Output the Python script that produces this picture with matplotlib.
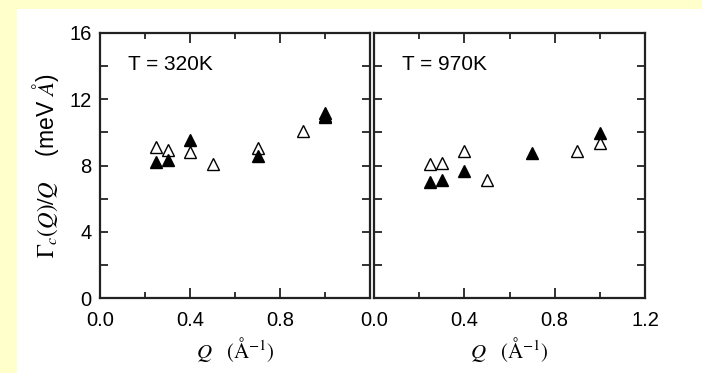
import matplotlib
matplotlib.use("Agg")
import matplotlib.pyplot as plt
from matplotlib.ticker import MultipleLocator

plt.rcParams['font.family'] = ['Liberation Sans', 'DejaVu Sans']
plt.rcParams['mathtext.fontset'] = 'stix'

# T = 320K
q_open_320 = [0.25, 0.30, 0.40, 0.50, 0.70, 0.90, 1.00]
g_open_320 = [9.14, 8.94, 8.84, 8.10, 9.08, 10.08, 11.0]
q_fill_320 = [0.25, 0.30, 0.40, 0.70, 1.00, 1.00]
g_fill_320 = [8.19, 8.33, 9.54, 8.57, 10.9, 11.15]

# T = 970K
q_open_970 = [0.25, 0.30, 0.40, 0.50, 0.90, 1.00]
g_open_970 = [8.07, 8.17, 8.90, 7.13, 8.90, 9.38]
q_fill_970 = [0.25, 0.30, 0.40, 0.70, 1.00]
g_fill_970 = [6.98, 7.13, 7.67, 8.78, 9.94]

panels = [
    ("T = 320K", q_open_320, g_open_320, q_fill_320, g_fill_320),
    ("T = 970K", q_open_970, g_open_970, q_fill_970, g_fill_970),
]

W, H = 702, 373
fig = plt.figure(figsize=(W / 100, H / 100), dpi=100)
fig.patch.set_facecolor('#ffffcc')
# white sheet behind the plots
fig.add_artist(plt.Rectangle((17 / W, 0), 1 - 17 / W, 1 - 9 / H,
                             transform=fig.transFigure, facecolor='white',
                             edgecolor='none', zorder=0))

boxes = [(100, 270), (374, 271)]
axes = []
for i, (label, qo, go, qf, gf) in enumerate(panels):
    x0, w = boxes[i]
    ax = fig.add_axes([x0 / W, (H - 298) / H, w / W, 265 / H])
    ax.set_facecolor('white')
    ax.plot(qo, go, linestyle='none', marker='^', ms=9, mfc='white',
            mec='black', mew=1.0, zorder=3)
    ax.plot(qf, gf, linestyle='none', marker='^', ms=9, mfc='black',
            mec='black', mew=1.0, zorder=4)
    ax.set_xlim(0, 1.2)
    ax.set_ylim(0, 16)
    ax.xaxis.set_major_locator(MultipleLocator(0.4))
    ax.xaxis.set_minor_locator(MultipleLocator(0.2))
    ax.yaxis.set_major_locator(MultipleLocator(4))
    ax.yaxis.set_minor_locator(MultipleLocator(2))
    ax.tick_params(which='both', direction='in', top=True, right=True,
                   width=1.3, labelsize=14.5, color='#222222')
    ax.tick_params(axis='x', which='major', length=7.5, pad=9)
    ax.tick_params(axis='x', which='minor', length=4.5)
    ax.tick_params(axis='y', which='both', length=5.5, pad=6)
    for s in ax.spines.values():
        s.set_linewidth(1.6)
        s.set_color('#222222')
    ax.text(0.105, 0.88, label, transform=ax.transAxes, fontsize=15,
            va='center', ha='left')
    ax.set_xlabel(r'$Q\quad(\mathrm{\AA}^{-1})$', fontsize=15, labelpad=4)
    axes.append(ax)

axes[0].set_xticks([0.0, 0.4, 0.8])
axes[0].set_xticklabels(['0.0', '0.4', '0.8'])
axes[0].xaxis.set_minor_locator(MultipleLocator(0.2))
axes[1].set_yticklabels([])
axes[0].set_ylabel(r'$\Gamma_c(Q)/Q$' + '    (meV ' + r'$\AA$' + ')',
                   fontsize=16.5, labelpad=6)

fig.savefig('out.png', dpi=100, facecolor=fig.get_facecolor())
